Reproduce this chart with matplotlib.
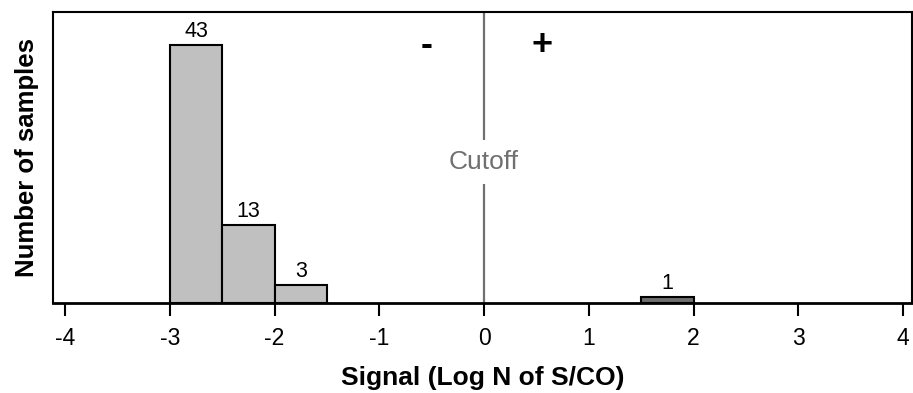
import matplotlib.pyplot as plt

# histogram bins (left edge, right edge) and counts
bin_left = [-3.0, -2.5, -2.0, 1.5]
bin_right = [-2.5, -2.0, -1.5, 2.0]
counts = [43, 13, 3, 1]
bar_colors = ['#c0c0c0', '#c0c0c0', '#c0c0c0', '#6f6f6f']
xticks = [-4, -3, -2, -1, 0, 1, 2, 3, 4]
cutoff = 0

plain = ['Liberation Sans', 'DejaVu Sans']

fig = plt.figure(figsize=(9.13, 3.93), dpi=100)
ax = fig.add_axes([0.058, 0.229, 0.941, 0.740])

widths = [r - l for l, r in zip(bin_left, bin_right)]
ax.bar(bin_left, counts, width=widths, align='edge', color=bar_colors,
       edgecolor='black', linewidth=1.5, zorder=3)
for l, w, c in zip(bin_left, widths, counts):
    ax.text(l + w / 2, c + 0.5, str(c), ha='center', va='bottom',
            fontsize=15.5, family=plain)

ax.axvline(cutoff, color='#707070', linewidth=1.6, zorder=1)
ax.text(cutoff, 23.5, 'Cutoff', ha='center', va='center', fontsize=19,
        color='#707070', family=plain,
        bbox=dict(facecolor='white', edgecolor='none', pad=7), zorder=2)
ax.text(-0.55, 43, '-', ha='center', va='center', fontsize=26,
        fontweight='bold', family=plain)
ax.text(0.55, 43, '+', ha='center', va='center', fontsize=26,
        fontweight='bold', family=plain)

ax.set_xlim(-4.115, 4.086)
ax.set_ylim(0, 48.5)
ax.set_yticks([])
ax.set_xticks(xticks)
ax.set_xticklabels([str(t) for t in xticks], family=plain, fontsize=16.5)
ax.tick_params(axis='x', direction='out', length=9, width=1.5, pad=8)
for s in ax.spines.values():
    s.set_linewidth(1.5)
ax.spines['bottom'].set_linewidth(2)

ax.set_xlabel('Signal (Log N of S/CO)', family=plain, fontsize=19,
              fontweight='bold', labelpad=12)
ax.set_ylabel('Number of samples', family=plain, fontsize=18.5,
              fontweight='bold', labelpad=10)

fig.savefig('out.png', dpi=100)
